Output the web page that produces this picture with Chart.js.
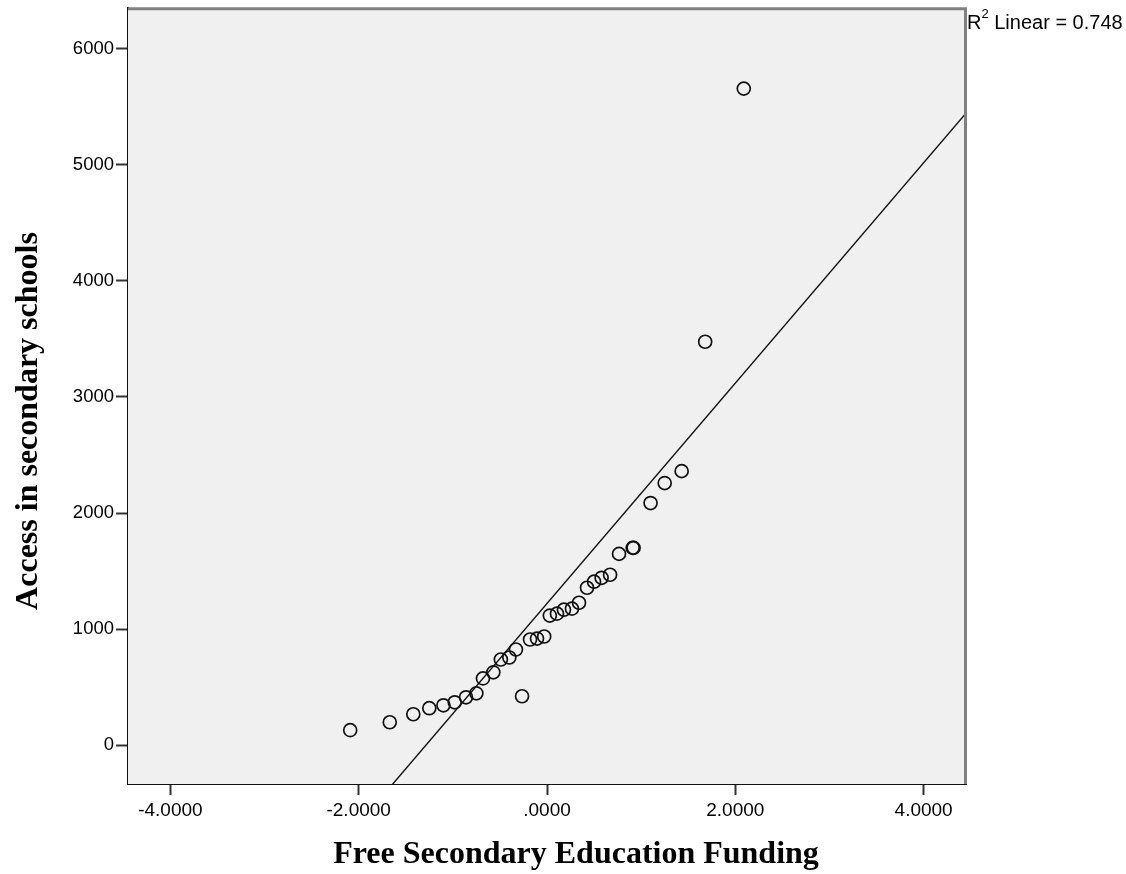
<!DOCTYPE html>
<html>
<head>
<meta charset="utf-8">
<script src="https://cdn.jsdelivr.net/npm/chart.js@4.4.1/dist/chart.umd.min.js"></script>
<style>
  html, body { margin: 0; padding: 0; background: #fff; }
  #wrap { width: 1126px; height: 874px; position: relative; }
</style>
</head>
<body>
<div id="wrap"><canvas id="scatter"></canvas></div>
<script>
// values
const fundingX = [
  -2.09, -1.67, -1.42, -1.25, -1.10, -0.98, -0.86, -0.75, -0.68, -0.57,
  -0.49, -0.40, -0.33, -0.265, -0.18, -0.106, -0.03, 0.03, 0.106, 0.18,
  0.265, 0.34, 0.425, 0.50, 0.58, 0.67, 0.765, 0.91, 0.92, 1.10,
  1.25, 1.43, 1.68, 2.09
];
const accessY = [
  129, 197, 266, 318, 343, 369, 412, 446, 575, 627,
  738, 755, 824, 421, 910, 918, 936, 1116, 1133, 1167,
  1176, 1227, 1356, 1408, 1442, 1468, 1648, 1700, 1700, 2086,
  2258, 2361, 3476, 5657
];
const xTicks = [-4, -2, 0, 2, 4];
const yTicks = [0, 1000, 2000, 3000, 4000, 5000, 6000];
const xRange = [-4.45, 4.45];
const yRange = [-335, 6350];
const xTitle = 'Free Secondary Education Funding';
const yTitle = 'Access in secondary schools';
const fitLabel = '0.748';

// least squares fit line
const n = fundingX.length;
const mx = fundingX.reduce((a, b) => a + b, 0) / n;
const my = accessY.reduce((a, b) => a + b, 0) / n;
let sxy = 0, sxx = 0;
fundingX.forEach((x, i) => {
  sxy += (x - mx) * (accessY[i] - my);
  sxx += (x - mx) * (x - mx);
});
const slope = sxy / sxx;
const intercept = my - slope * mx;
const fitLine = xRange.map((x) => ({ x, y: intercept + slope * x }));

const fmtX = (v) => {
  const s = Math.abs(v).toFixed(4);
  const body = s.startsWith('0') ? s.slice(1) : s;
  return (v < 0 ? '-' : '') + body;
};

const sans = '"Liberation Sans", Arial, sans-serif';
const serif = '"Liberation Serif", "Times New Roman", serif';

const framePlugin = {
  id: 'frame',
  beforeDatasetsDraw(chart) {
    const { ctx, chartArea: a } = chart;
    ctx.save();
    ctx.fillStyle = '#f0f0f0';
    ctx.fillRect(a.left, a.top, a.right - a.left, a.bottom - a.top);
    ctx.restore();
  },
  afterDraw(chart) {
    const { ctx, chartArea: a } = chart;
    ctx.save();
    ctx.strokeStyle = '#808080';
    ctx.lineWidth = 3;
    ctx.beginPath();
    ctx.moveTo(a.left, a.top + 0.5);
    ctx.lineTo(a.right - 0.5, a.top + 0.5);
    ctx.lineTo(a.right - 0.5, a.bottom);
    ctx.stroke();

    // R squared note
    ctx.fillStyle = '#000';
    ctx.textBaseline = 'alphabetic';
    ctx.textAlign = 'left';
    let x = a.right + 1;
    const base = 29;
    ctx.font = '20px ' + sans;
    ctx.fillText('R', x, base);
    x += ctx.measureText('R').width;
    ctx.font = '13px ' + sans;
    ctx.fillText('2', x, base - 11);
    x += ctx.measureText('2').width;
    ctx.font = '20px ' + sans;
    ctx.fillText(' Linear = ' + fitLabel, x, base);

    // axis titles
    ctx.font = 'bold 32px ' + serif;
    ctx.textAlign = 'center';
    ctx.fillText(xTitle, 576, 863);
    ctx.translate(37, 421);
    ctx.rotate(-Math.PI / 2);
    ctx.fillText(yTitle, 0, 0);
    ctx.restore();
  }
};

new Chart(document.getElementById('scatter'), {
  type: 'scatter',
  data: {
    datasets: [
      {
        label: 'Access',
        data: fundingX.map((x, i) => ({ x, y: accessY[i] })),
        pointStyle: 'circle',
        pointRadius: 6.5,
        pointBorderWidth: 1.7,
        pointBorderColor: '#111',
        pointBackgroundColor: 'rgba(0,0,0,0)',
        showLine: false
      },
      {
        label: 'Fit',
        type: 'line',
        data: fitLine,
        borderColor: '#111',
        borderWidth: 1.4,
        pointRadius: 0,
        fill: false,
        tension: 0
      }
    ]
  },
  options: {
    responsive: true,
    maintainAspectRatio: false,
    animation: false,
    events: [],
    layout: { padding: { top: 4, right: 160, left: 0, bottom: 0 } },
    plugins: {
      legend: { display: false },
      tooltip: { enabled: false }
    },
    scales: {
      x: {
        type: 'linear',
        min: xRange[0],
        max: xRange[1],
        afterBuildTicks: (axis) => { axis.ticks = xTicks.map((v) => ({ value: v })); },
        afterFit: (axis) => {
          axis.height = 90;
          axis.paddingLeft = 0;
          axis.paddingRight = 0;
        },
        grid: { drawOnChartArea: false, tickLength: 11, tickWidth: 2, color: '#333' },
        border: { color: '#111', width: 2 },
        ticks: {
          color: '#000',
          padding: 4,
          maxRotation: 0,
          font: { family: sans, size: 19 },
          callback: (v) => fmtX(v)
        }
      },
      y: {
        type: 'linear',
        min: yRange[0],
        max: yRange[1],
        afterBuildTicks: (axis) => { axis.ticks = yTicks.map((v) => ({ value: v })); },
        afterFit: (axis) => {
          axis.width = 128;
          axis.paddingTop = 0;
          axis.paddingBottom = 0;
        },
        grid: { drawOnChartArea: false, tickLength: 12, tickWidth: 2, color: '#333' },
        border: { color: '#111', width: 2 },
        ticks: {
          color: '#000',
          padding: 2,
          font: { family: sans, size: 18.5 },
          callback: (v) => String(v)
        }
      }
    }
  },
  plugins: [framePlugin]
});
</script>
</body>
</html>
